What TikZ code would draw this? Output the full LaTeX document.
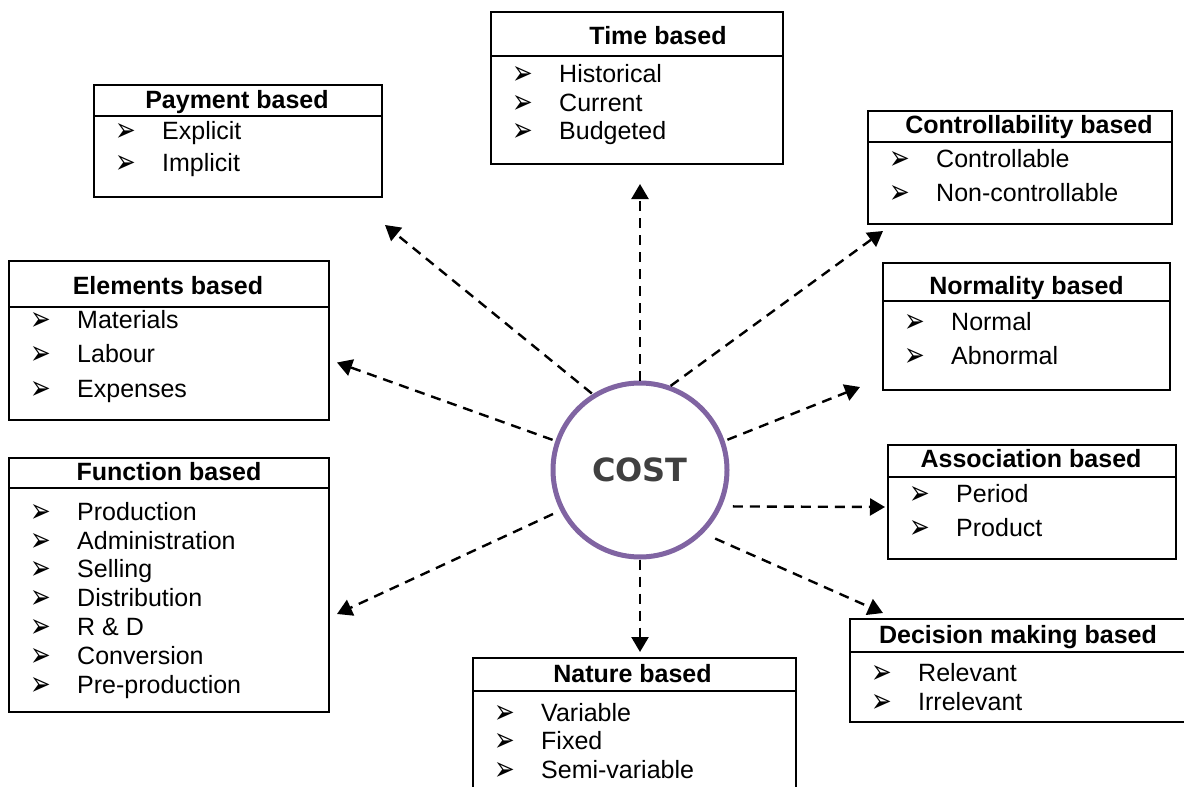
\documentclass[tikz,border=0pt]{standalone}
\usepackage{fontspec}
\usepackage{graphicx}
\setmainfont{Liberation Sans}
\newfontfamily\symbole{DejaVu Sans}
\usetikzlibrary{arrows.meta}
\definecolor{mauve}{HTML}{8064A2}
\definecolor{gristexte}{HTML}{404040}
\newcommand{\puce}{\makebox[47pt][l]{\raisebox{-2.5pt}{\smash{\scalebox{0.95}[1.3]{\symbole\fontsize{26}{26}\selectfont ➢}}}}}

\begin{document}
\begin{tikzpicture}[x=1pt, y=-1pt]
	\tikzset{boite/.style={draw=black, line width=2pt, inner sep=0pt, anchor=north west}, trait/.style={line width=2pt}, titre/.style={font=\fontsize{25}{30}\selectfont\bfseries, anchor=base, inner sep=0pt}, item/.style={font=\fontsize{25}{30}\selectfont, anchor=base west, inner sep=0pt}, fleche/.style={line width=2.4pt, dash pattern=on 10pt off 7pt, -{Triangle[length=15pt, width=17pt]}}};

	\useasboundingbox (0,0) rectangle (1184,787);
	\clip (0,0) rectangle (1184,787);

	% boites
	\node[boite, minimum width=292pt, minimum height=152pt] (temps) at (490,11) {};
	\node[boite, minimum width=288pt, minimum height=112pt] (paiement) at (93,84) {};
	\node[boite, minimum width=304pt, minimum height=113pt] (controle) at (867,110) {};
	\node[boite, minimum width=287pt, minimum height=127pt] (normalite) at (882,262) {};
	\node[boite, minimum width=320pt, minimum height=159pt] (elements) at (8,260) {};
	\node[boite, minimum width=320pt, minimum height=254pt] (fonction) at (8,457) {};
	\node[boite, minimum width=288pt, minimum height=114pt] (association) at (887,444) {};
	\node[boite, minimum width=338pt, minimum height=103pt] (decision) at (849,618) {};
	\node[boite, minimum width=323pt, minimum height=160pt] (nature) at (472,657) {};

	\draw[trait] (490,56) -- (782,56);
	\draw[trait] (93,116) -- (381,116);
	\draw[trait] (867,142) -- (1171,142);
	\draw[trait] (882,301) -- (1169,301);
	\draw[trait] (8,307) -- (328,307);
	\draw[trait] (8,488) -- (328,488);
	\draw[trait] (887,477) -- (1175,477);
	\draw[trait] (849,652) -- (1187,652);
	\draw[trait] (472,691) -- (795,691);

	% titres
	\node[titre] (ttemps) at (658,44) {Time based};
	\node[titre] (tpaiement) at (237,108) {Payment based};
	\node[titre] (tcontrole) at (1029,133) {Controllability based};
	\node[titre] (tnormalite) at (1026.5,294) {Normality based};
	\node[titre] (telements) at (168,294) {Elements based};
	\node[titre] (tfonction) at (169,480) {Function based};
	\node[titre] (tassociation) at (1031,467) {Association based};
	\node[titre] (tdecision) at (1018,643) {Decision making based};
	\node[titre] (tnature) at (632.5,682) {Nature based};

	% listes
	\node[item] (temps1) at (512,82) {\puce Historical};
	\node[item] (temps2) at (512,111) {\puce Current};
	\node[item] (temps3) at (512,139) {\puce Budgeted};

	\node[item] (paiement1) at (115,139) {\puce Explicit};
	\node[item] (paiement2) at (115,171) {\puce Implicit};

	\node[item] (controle1) at (889,167) {\puce Controllable};
	\node[item] (controle2) at (889,201) {\puce Non-controllable};

	\node[item] (normalite1) at (904,330) {\puce Normal};
	\node[item] (normalite2) at (904,364) {\puce Abnormal};

	\node[item] (elements1) at (30,328) {\puce Materials};
	\node[item] (elements2) at (30,362) {\puce Labour};
	\node[item] (elements3) at (30,397) {\puce Expenses};

	\node[item] (fonction1) at (30,520) {\puce Production};
	\node[item] (fonction2) at (30,549) {\puce Administration};
	\node[item] (fonction3) at (30,577) {\puce Selling};
	\node[item] (fonction4) at (30,606) {\puce Distribution};
	\node[item] (fonction5) at (30,635) {\puce R \& D};
	\node[item] (fonction6) at (30,664) {\puce Conversion};
	\node[item] (fonction7) at (30,693) {\puce Pre-production};

	\node[item] (association1) at (909,502) {\puce Period};
	\node[item] (association2) at (909,536) {\puce Product};

	\node[item] (decision1) at (871,681) {\puce Relevant};
	\node[item] (decision2) at (871,710) {\puce Irrelevant};

	\node[item] (nature1) at (494,721) {\puce Variable};
	\node[item] (nature2) at (494,749) {\puce Fixed};
	\node[item] (nature3) at (494,778) {\puce Semi-variable};

	% centre
	\node[circle, draw=mauve, line width=5pt, minimum size=174pt, inner sep=0pt, text=gristexte, font=\symbole\fontsize{32}{32}\selectfont\bfseries] (cost) at (640,470) {COST};

	\draw[fleche, shorten >=19pt] (cost.north) -- (cost.north |- temps.south);
	\draw[fleche, shorten <=1pt] (cost.122) -- ([shift={(2,27)}]paiement.south east);
	\draw[fleche] (cost.70) -- ([shift={(16,6)}]controle.south west);
	\draw[fleche, shorten <=3pt] (cost.19) -- ([shift={(-22,-4)}]normalite.south west);
	\draw[fleche, shorten <=11pt] (cost.-24) -- ([shift={(-2,5)}]association.west);
	\draw[fleche, shorten <=13pt] (cost.-45) -- ([shift={(34,-5)}]decision.north west);
	\draw[fleche, shorten >=5pt] (cost.south) -- (cost.south |- nature.north);
	\draw[fleche, shorten <=8pt] (cost.207) -- ([shift={(7,29)}]fonction.east);
	\draw[fleche, shorten <=3pt] (cost.161) -- ([shift={(7,22)}]elements.east);
\end{tikzpicture}
\end{document}
